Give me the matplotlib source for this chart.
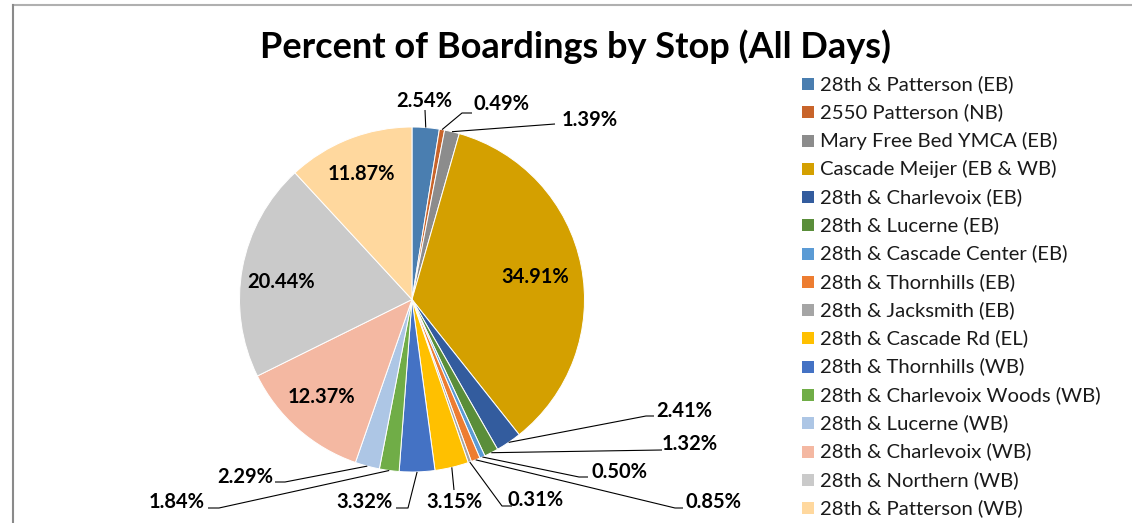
import numpy as np
import matplotlib.pyplot as plt
from matplotlib.patches import Rectangle

stops = ['28th & Patterson (EB)', '2550 Patterson (NB)', 'Mary Free Bed YMCA (EB)',
         'Cascade Meijer (EB & WB)', '28th & Charlevoix (EB)', '28th & Lucerne (EB)',
         '28th & Cascade Center (EB)', '28th & Thornhills (EB)', '28th & Jacksmith (EB)',
         '28th & Cascade Rd (EL)', '28th & Thornhills (WB)', '28th & Charlevoix Woods (WB)',
         '28th & Lucerne (WB)', '28th & Charlevoix (WB)', '28th & Northern (WB)',
         '28th & Patterson (WB)']
pct = [2.54, 0.49, 1.39, 34.91, 2.41, 1.32, 0.50, 0.85, 0.31, 3.15, 3.32, 1.84,
       2.29, 12.37, 20.44, 11.87]
colors = ['#4a7eb0', '#c8642a', '#8c8c8c', '#d4a000', '#335c9e', '#5a8e3a',
          '#5b9bd5', '#ed7d31', '#a5a5a5', '#ffc000', '#4472c4', '#70ad47',
          '#adc6e5', '#f4b8a2', '#cacaca', '#ffd89e']

W, H = 1132, 523
plt.rcParams['font.family'] = ['Lato', 'DejaVu Sans']

def P(x, y):
    # pixel coords of the picture (y down) -> axes coords (y up)
    return x, H - y

fig = plt.figure(figsize=(W / 100, H / 100), dpi=100)
ax = fig.add_axes([0, 0, 1, 1])

cx, cy = P(412, 299.5)
R = 172.5
wedges, _ = ax.pie(pct, colors=colors, startangle=90, counterclock=False,
                   center=(cx, cy), radius=R,
                   wedgeprops=dict(edgecolor='white', linewidth=0.7))
ax.set_xlim(0, W)
ax.set_ylim(0, H)
ax.set_aspect('equal')
ax.axis('off')

# label layout: (text x, text y, elbow points) in picture pixels, None = inside label
layout = [
    (424, 101, [(425, 110)]),
    (502, 104, [(462, 113), (472, 113)]),
    (590, 120, [(555, 124)]),
    (535, 277, None),
    (684, 411, [(646, 416), (654, 416)]),
    (690, 444, [(662, 450)]),
    (619, 472, [(579, 477), (588, 477)]),
    (713, 502, [(675, 508), (683, 508)]),
    (536, 500, [(502, 506), (512, 506)]),
    (454, 502, [(454, 490)]),
    (364, 502, [(408, 508), (396, 508)]),
    (177, 502, [(219, 508), (208, 508)]),
    (245, 477, [(285, 482), (275, 482)]),
    (321, 397, None),
    (281, 282, None),
    (361, 174, None),
]

for w, v, (tx, ty, pts) in zip(wedges, pct, layout):
    ax.text(*P(tx, ty), '%.2f%%' % v, ha='center', va='center',
            fontsize=14.5, fontweight='bold', color='black')
    if pts:
        a = np.deg2rad((w.theta1 + w.theta2) / 2)
        xs = [cx + R * np.cos(a)] + [P(*p)[0] for p in pts]
        ys = [cy + R * np.sin(a)] + [P(*p)[1] for p in pts]
        ax.plot(xs, ys, color='black', lw=0.8, solid_capstyle='butt')

# legend
for i, (name, c) in enumerate(zip(stops, colors)):
    y = 84 + i * 28.27
    ax.add_patch(Rectangle(P(802, y + 6), 12, 12, facecolor=c, edgecolor='none'))
    ax.text(*P(820, y), name, ha='left', va='center', fontsize=14.6, color='#1a1a1a')

ax.text(*P(575, 47), 'Percent of Boardings by Stop (All Days)', ha='center',
        va='center', fontsize=26, fontweight='bold', color='black')

# chart area border (cut off at right and bottom)
ax.plot([13, W], [H - 5, H - 5], color='#b0b0b0', lw=1.5, clip_on=False)
ax.plot([13, 13], [0, H - 5], color='#8a8a8a', lw=1.5, clip_on=False)

fig.savefig('out.png', dpi=100, facecolor='white')
